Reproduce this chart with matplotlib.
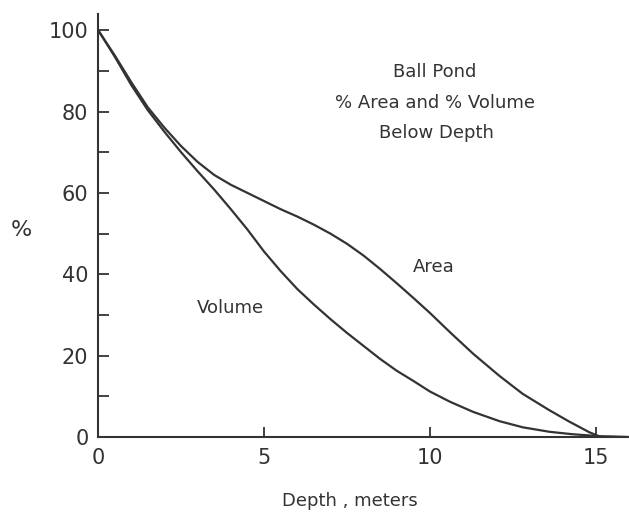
import matplotlib
matplotlib.use("Agg")
from matplotlib import pyplot as plt

# values
depth_volume = [0, 0.5, 1.0, 1.5, 2.0, 2.5, 3.0, 3.5, 4.0, 4.5, 5.0, 5.5, 6.0, 6.5,
                7.0, 7.5, 8.0, 8.5, 9.0, 9.5, 10.0, 10.6, 11.3, 12.1, 12.8, 13.6,
                14.3, 14.8, 15.2, 16.0]
pct_volume = [100, 93.5, 86.5, 80.3, 75, 70, 65.3, 60.8, 56, 51, 45.6, 40.8, 36.4, 32.6,
              29, 25.6, 22.4, 19.2, 16.3, 13.8, 11.2, 8.7, 6.2, 3.9, 2.4, 1.3,
              0.7, 0.4, 0.1, 0]

depth_area = [0, 0.5, 1.0, 1.5, 2.0, 2.5, 3.0, 3.5, 4.0, 4.5, 5.0, 5.5, 6.0, 6.5,
              7.0, 7.5, 8.0, 8.5, 9.0, 9.5, 10.0, 10.6, 11.3, 12.1, 12.8, 13.6,
              14.2, 14.8, 15.1, 16.0]
pct_area = [100, 93.8, 87.2, 81, 76, 71.5, 67.6, 64.4, 62, 60, 58, 56, 54.2, 52.2,
            50, 47.5, 44.6, 41.3, 37.8, 34.2, 30.5, 25.8, 20.5, 15, 10.6, 6.6,
            3.8, 1.2, 0.2, 0]

xticks = [0, 5, 10, 15]
yticks = [0, 20, 40, 60, 80, 100]

ink = "#333333"
plt.rcParams["font.family"] = ["DejaVu Sans"]

fig = plt.figure(figsize=(6.29, 5.13), dpi=100)
ax = fig.add_axes([0.156, 0.148, 0.844, 0.825])

ax.plot(depth_volume, pct_volume, color=ink, lw=1.6)
ax.plot(depth_area, pct_area, color=ink, lw=1.6)

ax.set_xlim(0, 16)
ax.set_ylim(0, 104)
ax.set_xticks(xticks)
ax.set_yticks(yticks)
ax.set_yticks(range(10, 100, 20), minor=True)
ax.tick_params(axis="y", which="both", direction="in", length=8, width=1.3,
               pad=7, colors=ink, labelsize=15)
ax.tick_params(axis="x", which="both", direction="in", length=7, width=1.3,
               pad=8, colors=ink, labelsize=15)

for s in ["top", "right"]:
    ax.spines[s].set_visible(False)
for s in ["left", "bottom"]:
    ax.spines[s].set_color(ink)
    ax.spines[s].set_linewidth(1.5)

ax.set_xlabel("Depth , meters", fontsize=13, color=ink)
ax.xaxis.set_label_coords(0.475, -0.13)
ax.set_ylabel("%", fontsize=16, color=ink, rotation=0, va="center", ha="center")
ax.yaxis.set_label_coords(-0.145, 0.489)

ax.text(10.15, 89.8, "Ball Pond", ha="center", va="center", fontsize=13, color=ink)
ax.text(10.15, 82.0, "% Area and % Volume", ha="center", va="center", fontsize=13, color=ink)
ax.text(10.2, 74.6, "Below Depth", ha="center", va="center", fontsize=13, color=ink)
ax.text(4.0, 31.7, "Volume", ha="center", va="center", fontsize=13, color=ink)
ax.text(10.1, 41.8, "Area", ha="center", va="center", fontsize=13, color=ink)

fig.savefig("out.png", dpi=100)
